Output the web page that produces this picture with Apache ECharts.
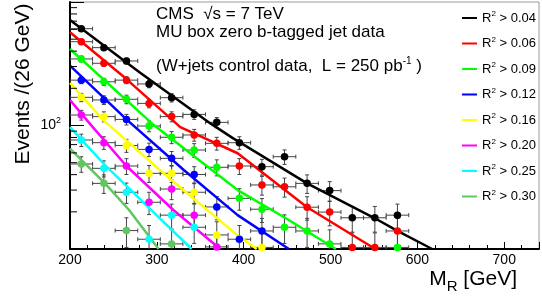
<!DOCTYPE html>
<html>
<head>
<meta charset="utf-8">
<script src="https://cdn.jsdelivr.net/npm/echarts@6/dist/echarts.min.js"></script>
<style>
  html, body { margin: 0; padding: 0; background: #fff; }
  #chart { width: 542px; height: 299px; }
</style>
</head>
<body>
<div id="chart"></div>
<script>
// bin centres in M_R (26 GeV bins)
const mr = [213, 239, 265, 291, 317, 343, 369, 395, 421, 447, 473, 499, 525, 551, 577];
const binHalf = 13;

const cuts = ['0.04', '0.06', '0.09', '0.12', '0.16', '0.20', '0.25', '0.30'];
const colors = ['#000000', '#ff0000', '#00ff00', '#0000ff', '#ffff00', '#ff00ff', '#00ffff', '#5fc75f'];

/* events per bin, one array per R2 cut */
const r04 = [608, 427, 333, 217, 168, 123, 106, 72.6, 46.4, 55.9, 34.0, 29.7, 17.9, 17.9, 18.8];
const r06 = [477, 319, 233, 151, 118, 83.8, 71.7, 47.0, 33.0, 31.9, 21.8, 19.9, 10.3, 10.3, 14.0];
const r09 = [346, 226, 163, 99, 80.3, 63.3, 45.9, 25.7, 21.0, 15.0, 14.0, 11.0, null, null, 10.3];
const r12 = [233, 161, 112, 64, 54.2, 40.1, 21.9, 12.0, 14.0];
const r16 = [169, 118, 68.9, 41.0, 41.0, 28.8, 13.0, null, 10.3];
const r20 = [121.6, 72.6, 47.0, 23.9, 30.6, 18.8, 10.4];
const r25 = [76.3, 45.0, 28.8, 12.0, 18.8, 15.0];
const r30 = [48.8, 34.0, 14.1, null, 11.0];

/* vertical errors */
const e04 = [25, 21, 18, 15, 13, 11, 10, 8.5, 6.8, 7.5, 5.8, 5.4, 4.2, 4.2, 4.3];
const e06 = [22, 18, 15, 12, 11, 9.2, 8.5, 6.9, 5.7, 5.6, 4.7, 4.5, 3.2, 3.2, 3.7];
const e09 = [19, 15, 13, 10, 9, 8, 6.8, 5.1, 4.6, 3.9, 3.7, 3.3, null, null, 3.2];
const e12 = [15, 13, 11, 8, 7.4, 6.3, 4.7, 3.5, 3.7];
const e16 = [13, 11, 8.3, 6.4, 6.4, 5.4, 3.6, null, 3.2];
const e20 = [11, 8.5, 6.9, 4.9, 5.5, 4.3, 3.2];
const e25 = [8.7, 6.7, 5.4, 3.5, 4.3, 3.9];
const e30 = [7, 5.8, 3.8, null, 3.3];

/* fit curves: [M_R, events] */
const f04 = [[200, 715], [280, 270], [362.5, 103], [387.5, 79], [473, 34], [550, 17.9], [577, 14], [617, 10]];
const f06 = [[200, 569], [264, 241], [327, 97], [393, 59.6], [473, 21.8], [551.5, 10]];
const f09 = [[200, 416], [295, 103], [393, 30], [450, 17.5], [506, 10]];
const f12 = [[200, 305], [265.6, 111], [331, 43.6], [393, 18.8], [452, 10]];
const f16 = [[200, 221], [238, 111], [314, 37.6], [393, 12.9], [415, 10]];
const f20 = [[200, 161], [223, 103], [265, 47], [319, 20.7], [373, 10]];
const f25 = [[200, 97], [240, 48], [291, 21.5], [340, 10]];
const f30 = [[200, 65], [240, 34.2], [268, 20.7], [302, 10]];

const yMinorTicks = [20, 30, 40, 50, 60, 70, 80, 90, 200, 300, 400, 500, 600, 700, 800, 900];

const counts = [r04, r06, r09, r12, r16, r20, r25, r30];
const errs = [e04, e06, e09, e12, e16, e20, e25, e30];
const fits = [f04, f06, f09, f12, f16, f20, f25, f30];

const font = 'Liberation Sans';
const chart = echarts.init(document.getElementById('chart'));

function errorBars(params, api) {
  var x = api.value(0), y = api.value(1), e = api.value(2);
  var l = api.coord([x - binHalf, y]);
  var r = api.coord([x + binHalf, y]);
  var t = api.coord([x, y + e]);
  var b = api.coord([x, Math.max(y - e, 1)]);
  var c = 2;
  var st = { stroke: '#444', lineWidth: 1 };
  return {
    type: 'group',
    children: [
      { type: 'line', shape: { x1: l[0], y1: l[1], x2: r[0], y2: r[1] }, style: st },
      { type: 'line', shape: { x1: l[0], y1: l[1] - c, x2: l[0], y2: l[1] + c }, style: st },
      { type: 'line', shape: { x1: r[0], y1: r[1] - c, x2: r[0], y2: r[1] + c }, style: st },
      { type: 'line', shape: { x1: t[0], y1: t[1], x2: b[0], y2: b[1] }, style: st },
      { type: 'line', shape: { x1: t[0] - c, y1: t[1], x2: t[0] + c, y2: t[1] }, style: st },
      { type: 'line', shape: { x1: b[0] - c, y1: b[1], x2: b[0] + c, y2: b[1] }, style: st }
    ]
  };
}

const series = [];
const names = [];
counts.forEach(function (vals, i) {
  var name = 'R² > ' + cuts[i];
  names.push(name);
  var pts = [], bars = [];
  vals.forEach(function (v, j) {
    if (v == null) return;
    pts.push([mr[j], v]);
    bars.push([mr[j], v, errs[i][j]]);
  });
  series.push({
    type: 'custom', name: 'err' + i, renderItem: errorBars, data: bars,
    clip: true, silent: true, z: 1
  });
  series.push({
    type: 'line', name: name, data: fits[i], smooth: false, showSymbol: false,
    lineStyle: { color: colors[i], width: 2.5, join: 'round' }, itemStyle: { color: colors[i] },
    silent: true, z: 2
  });
  series.push({
    type: 'scatter', name: 'pts' + i, data: pts, symbolSize: 7.5,
    itemStyle: { color: colors[i], opacity: 1 }, silent: true, z: 3
  });
});

// minor ticks of the log axis
series.push({
  type: 'custom', name: 'yminor', silent: true, z: 4,
  data: yMinorTicks.map(function (v) { return [200, v]; }),
  renderItem: function (params, api) {
    var p = api.coord([api.value(0), api.value(1)]);
    return { type: 'line', shape: { x1: p[0], y1: p[1], x2: p[0] + 7, y2: p[1] },
      style: { stroke: '#000', lineWidth: 1 } };
  }
});

chart.setOption({
  animation: false,
  grid: { left: 70, right: -4, top: 2, bottom: 50, show: true, borderColor: '#999', borderWidth: 1 },
  xAxis: {
    type: 'value', min: 200, max: 740, interval: 100,
    axisLine: { lineStyle: { color: '#000', width: 2 } },
    axisTick: { inside: true, length: 7, lineStyle: { color: '#000' } },
    minorTick: { show: true, splitNumber: 5, length: 4, lineStyle: { color: '#000' } },
    splitLine: { show: false },
    axisLabel: { color: '#000', fontFamily: font, fontSize: 14, margin: 4,
      formatter: function (v) { return v >= 740 ? '' : String(v); } }
  },
  yAxis: {
    type: 'log', logBase: 10, min: 10, max: 1000,
    axisLine: { lineStyle: { color: '#000', width: 2 } },
    axisTick: { inside: true, length: 14, lineStyle: { color: '#000' } },
    splitLine: { show: false },
    axisLabel: {
      margin: 9, color: '#000', fontFamily: font,
      formatter: function (v) { return Math.round(v) === 100 ? '{b|10}{s|2}' : ''; },
      rich: {
        b: { fontSize: 14, fontFamily: font, color: '#000', lineHeight: 18 },
        s: { fontSize: 9, fontFamily: font, color: '#000', verticalAlign: 'top', lineHeight: 10 }
      }
    }
  },
  legend: {
    orient: 'vertical', left: 457, top: 5, itemWidth: 15, itemHeight: 2, itemGap: 11,
    icon: 'rect', data: names, selectedMode: false,
    formatter: function (name) { return '{a|R}{s|2}{a| > ' + name.split('> ')[1] + '}'; },
    textStyle: {
      color: '#000', fontFamily: font, fontSize: 13,
      rich: {
        a: { fontSize: 13, fontFamily: font, color: '#000', lineHeight: 16 },
        s: { fontSize: 8, fontFamily: font, color: '#000', verticalAlign: 'top', lineHeight: 9 }
      }
    }
  },
  graphic: [
    { type: 'text', x: 23, y: 84, rotation: Math.PI / 2,
      style: { text: 'Events /(26 GeV)', fontFamily: font, fontSize: 21, fill: '#000',
        align: 'center', verticalAlign: 'middle' } },
    { type: 'text', x: 517, y: 279,
      style: { text: '{a|M}{b|R}{a| [GeV]}', align: 'right', verticalAlign: 'middle',
        rich: {
          a: { fontFamily: font, fontSize: 21, fill: '#000', lineHeight: 30 },
          b: { fontFamily: font, fontSize: 15, fill: '#000', lineHeight: 15, verticalAlign: 'bottom' }
        } } },
    { type: 'text', x: 156, y: 14,
      style: { text: 'CMS  √s = 7 TeV', fontFamily: font, fontSize: 17, fill: '#000', verticalAlign: 'middle' } },
    { type: 'text', x: 156, y: 32.5,
      style: { text: 'MU box zero b-tagged jet data', fontFamily: font, fontSize: 17, fill: '#000', verticalAlign: 'middle' } },
    { type: 'text', x: 156, y: 66.5,
      style: { text: '{a|(W+jets control data,  L = 250 pb}{s|-1}{a| )}', verticalAlign: 'middle',
        rich: {
          a: { fontFamily: font, fontSize: 17, fill: '#000', lineHeight: 20 },
          s: { fontFamily: font, fontSize: 10, fill: '#000', lineHeight: 11, verticalAlign: 'top' }
        } } }
  ],
  series: series
});
</script>
</body>
</html>
